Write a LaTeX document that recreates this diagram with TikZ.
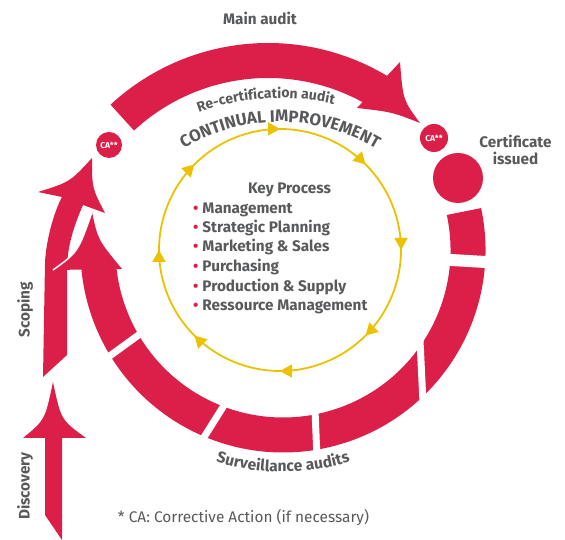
\documentclass[tikz,border=0pt]{standalone}
\usepackage{fontspec}
\setmainfont{Fira Sans}
\usetikzlibrary{arrows, arrows.meta, calc, decorations.markings, decorations.text}

\definecolor{certred}{RGB}{219,31,72}
\definecolor{loopgold}{RGB}{236,194,0}
\definecolor{textgray}{RGB}{88,89,91}

\newcommand{\bigbold}{\bfseries\fontsize{16.8}{19}\selectfont}
\newcommand{\midbold}{\bfseries\fontsize{14}{16}\selectfont}
\newcommand{\lowbold}{\bfseries\fontsize{15.6}{18}\selectfont}

\tikzset{
  band/.style={certred, line width=35pt},
  gapline/.style={white, line width=7pt},
  graytext/.style={text=textgray, font=\bfseries\fontsize{15.3}{18}\selectfont, inner sep=0pt},
  itemtext/.style={graytext, anchor=base west},
  cadot/.style={circle, fill=certred, text=white, font=\bfseries\fontsize{8.5}{9}\selectfont, inner sep=0pt, minimum size=#1},
  notetext/.style={text=textgray, font=\fontsize{15.4}{18}\selectfont, inner sep=0pt},
}

\begin{document}
\begin{tikzpicture}[x=1pt, y=1pt]
\useasboundingbox (0,0) rectangle (565,540);
\coordinate (ring) at (283,290); %centre of the cycle
\coordinate (loop) at (280,290); %centre of the yellow loop
\coordinate (bow) at (268,265); %centre of the main audit arc

%\draw[step=10,gray,very thin] (0,0) grid (565,540); %background grid
\fill[certred] (45,25) -- (45,102) -- (23,102) .. controls (45,120) .. (53,158) .. controls (61,120) .. (86,102) -- (62,102) -- (62,0) -- cycle; %discovery arrow
\fill[certred] (43,163) -- (45,277) .. controls (46,300) and (54,328) .. (62,343) -- (38,348) .. controls (70,358) .. (92,382) .. controls (92,352) .. (105,327) -- (83,335) .. controls (72,310) and (67,290) .. (67,270) -- (67,185) -- cycle; %scoping arrow

\draw[band] ($(ring)+(12:185)$) arc[start angle=12, end angle=-175, radius=185]; %surveillance cycle
\draw[gapline, line width=12pt] ($(ring)+(-3.4:158)$) -- ($(ring)+(-3.4:212)$);
\draw[gapline] (420,200) -- (423,137);
\draw[gapline] (315,130) -- (317,82);
\draw[gapline] (228,141) -- (201,98);
\draw[gapline] (140,206) -- (100,177);
\fill[certred] (53,270) .. controls (78,288) .. (92,328) .. controls (98,300) .. (122,271) -- cycle; %cycle arrow head
\draw[white, line width=1.5pt] (53,270) .. controls (78,288) .. (92,328);

\draw[band] ($(bow)+(132.8:214.5)$) arc[start angle=132.8, end angle=58, radius=214.5]; %main audit
\fill[certred] (357,432) -- (400,478) .. controls (403,440) .. (420,417) .. controls (392,428) .. (357,432) -- cycle;

\node[cadot=26pt] (caleft) at (109,395) {CA**};
\node[cadot=28pt] (caright) at (434,402) {CA**};
\node[circle, fill=certred, minimum size=50pt, inner sep=0pt] (certdot) at (458,362) {};

\draw[loopgold, line width=1.8pt, postaction={decorate}, decoration={markings, mark=between positions 0.0625 and 1 step 0.125 with {\arrow{Triangle[length=12pt, width=13pt]}}}] ($(loop)+(112.5:121)$) arc[start angle=112.5, end angle=-247.5, radius=121]; %continual improvement loop

\path[decorate, decoration={text along path, text align=center, text color=textgray, text={|\bigbold|CONTINUAL IMPROVEMENT}}] ($(280,231.4)+(121:186.6)$) arc[start angle=121, end angle=59, radius=186.6];
\path[decorate, decoration={text along path, text align=center, text color=textgray, text={|\midbold|Re-certification audit}}] ($(280,207)+(113.5:235)$) arc[start angle=113.5, end angle=73.5, radius=235];
\path[decorate, decoration={text along path, text align=center, text color=textgray, text={|\lowbold|Surveillance audits}}] ($(ring)+(-114:222)$) arc[start angle=-114, end angle=-66, radius=222];

\node[graytext, anchor=base] (mainaudit) at (260,515.5) {Main audit};
\node[graytext, anchor=base] (certificate) at (515.5,392) {Certificate};
\node[graytext, anchor=base] (issued) at (515.5,375) {issued};
\node[graytext, rotate=90] (scoping) at (25,230) {Scoping};
\node[graytext, rotate=90] (discovery) at (25,54) {Discovery};

\node[graytext, anchor=base] (keyprocess) at (289.5,346) {Key Process};
\node[itemtext] (management) at (193,326) {\textcolor{certred}{\textbullet}\hspace{4pt}Management};
\node[itemtext] (strategic) at (193,307) {\textcolor{certred}{\textbullet}\hspace{4pt}Strategic Planning};
\node[itemtext] (marketing) at (193,288) {\textcolor{certred}{\textbullet}\hspace{4pt}Marketing \& Sales};
\node[itemtext] (purchasing) at (193,268) {\textcolor{certred}{\textbullet}\hspace{4pt}Purchasing};
\node[itemtext] (production) at (193,248) {\textcolor{certred}{\textbullet}\hspace{4pt}Production \& Supply};
\node[itemtext] (ressource) at (193,229) {\textcolor{certred}{\textbullet}\hspace{4pt}Ressource Management};

\node[notetext, anchor=base] (footnote) at (243.5,17) {* CA: Corrective Action (if necessary)};
\end{tikzpicture}
\end{document}
